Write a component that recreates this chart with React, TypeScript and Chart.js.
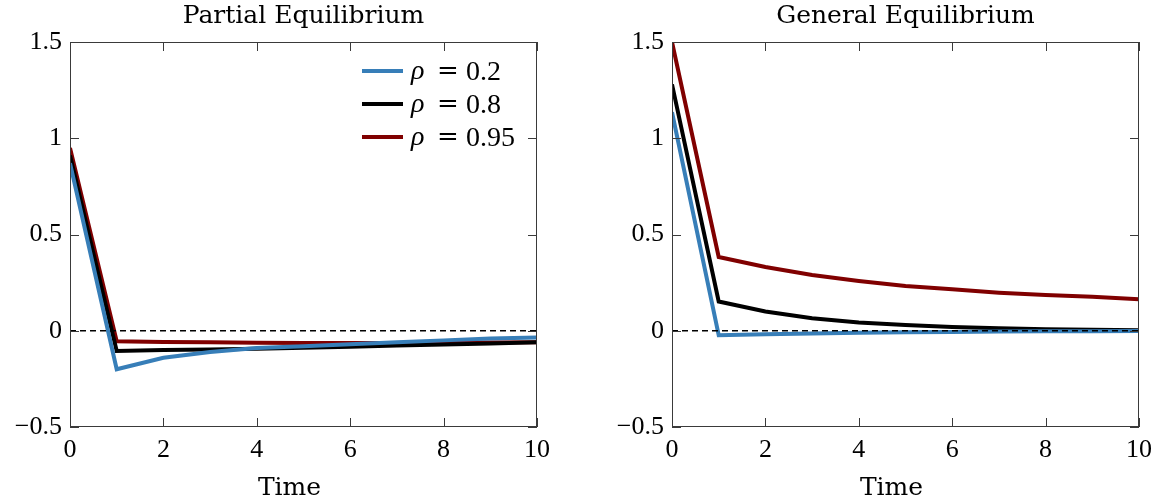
import React, { useEffect, useRef } from 'react';
import { Chart, registerables } from 'chart.js';

Chart.register(...registerables);

// ---- Data ----
const time = [0, 1, 2, 3, 4, 5, 6, 7, 8, 9, 10];
const rhoLabels = ['0.2', '0.8', '0.95'];
const seriesColors = ['#377eb8', '#000000', '#800000'];

// Partial equilibrium
const peRho02 = [0.87, -0.2, -0.14, -0.11, -0.09, -0.08, -0.07, -0.06, -0.05, -0.04, -0.035];
const peRho08 = [0.91, -0.105, -0.1, -0.097, -0.093, -0.088, -0.083, -0.077, -0.072, -0.066, -0.06];
const peRho095 = [0.95, -0.055, -0.058, -0.06, -0.062, -0.063, -0.063, -0.063, -0.062, -0.061, -0.06];

// General equilibrium
const geRho02 = [1.135, -0.023, -0.018, -0.014, -0.01, -0.008, -0.006, -0.004, -0.003, -0.002, -0.001];
const geRho08 = [1.28, 0.152, 0.1, 0.065, 0.043, 0.03, 0.02, 0.013, 0.008, 0.005, 0.003];
const geRho095 = [1.5, 0.383, 0.331, 0.29, 0.259, 0.233, 0.215, 0.198, 0.186, 0.176, 0.164];

const xTicks = [0, 2, 4, 6, 8, 10];
const yTicks = [-0.5, 0, 0.5, 1, 1.5];
const xAxisLabel = 'Time';

const FONT = '"Liberation Serif", serif';
const TITLE_FONT = '"DejaVu Serif", serif';

const fmt = (v: number) => (v < 0 ? '\u2212' + String(Math.abs(v)) : String(v));

const framePlugin = (showLegend: boolean) => ({
  id: 'frame',
  afterDatasetsDraw(chart: any) {
    const { ctx, chartArea: ca, scales } = chart;
    const xs = scales.x;
    const ys = scales.y;
    ctx.save();
    // dashed zero line
    const y0 = ys.getPixelForValue(0);
    ctx.strokeStyle = '#000';
    ctx.lineWidth = 1.7;
    ctx.setLineDash([6, 4]);
    ctx.beginPath();
    ctx.moveTo(ca.left, y0);
    ctx.lineTo(ca.right, y0);
    ctx.stroke();
    ctx.setLineDash([]);
    // frame
    ctx.strokeStyle = '#3a3a3a';
    ctx.lineWidth = 1;
    ctx.strokeRect(ca.left + 0.5, ca.top + 0.5, ca.right - ca.left - 1, ca.bottom - ca.top - 1);
    const tl = 9;
    ctx.beginPath();
    xTicks.forEach((v) => {
      const x = Math.round(xs.getPixelForValue(v)) + 0.5;
      ctx.moveTo(x, ca.bottom);
      ctx.lineTo(x, ca.bottom - tl);
      ctx.moveTo(x, ca.top);
      ctx.lineTo(x, ca.top + tl);
    });
    yTicks.forEach((v) => {
      const y = Math.round(ys.getPixelForValue(v)) + 0.5;
      ctx.moveTo(ca.left, y);
      ctx.lineTo(ca.left + tl, y);
      ctx.moveTo(ca.right, y);
      ctx.lineTo(ca.right - tl, y);
    });
    ctx.stroke();

    // x-axis label
    ctx.fillStyle = '#000';
    ctx.textAlign = 'center';
    ctx.textBaseline = 'alphabetic';
    ctx.font = '25px ' + TITLE_FONT;
    ctx.fillText(xAxisLabel, (ca.left + ca.right) / 2 - 14, chart.height - 6);

    if (showLegend) {
      chart.data.datasets.forEach((ds: any, i: number) => {
        const y = ca.top + 29 + i * 33;
        ctx.strokeStyle = ds.borderColor;
        ctx.lineWidth = 4;
        ctx.beginPath();
        ctx.moveTo(ca.right - 175, y);
        ctx.lineTo(ca.right - 134, y);
        ctx.stroke();
        ctx.fillStyle = '#000';
        ctx.textBaseline = 'alphabetic';
        ctx.textAlign = 'left';
        ctx.font = 'italic 28px ' + FONT;
        ctx.fillText('\u03c1', ca.right - 126, y + 8);
        ctx.font = '26px ' + TITLE_FONT;
        ctx.fillText('=', ca.right - 100, y + 8);
        ctx.font = '28px ' + FONT;
        ctx.fillText(rhoLabels[i], ca.right - 71, y + 9);
      });
    }
    ctx.restore();
  },
});

type PanelProps = {
  title: string;
  series: number[][];
  showLegend: boolean;
  yAxisWidth: number;
  rightPad: number;
};

function Panel({ title, series, showLegend, yAxisWidth, rightPad }: PanelProps) {
  const ref = useRef<HTMLCanvasElement | null>(null);
  useEffect(() => {
    if (!ref.current) return;
    const chart = new Chart(ref.current, {
      type: 'line',
      data: {
        datasets: series.map((vals, i) => ({
          label: '\u03c1 = ' + rhoLabels[i],
          data: time.map((t, j) => ({ x: t, y: vals[j] })),
          borderColor: seriesColors[i],
          backgroundColor: seriesColors[i],
          borderWidth: 4,
          pointRadius: 0,
          tension: 0,
          fill: false,
        })),
      },
      options: {
        animation: false,
        responsive: false,
        layout: { padding: { left: 0, right: rightPad, top: 0, bottom: 0 } },
        plugins: {
          legend: { display: false },
          tooltip: { enabled: false },
          title: {
            display: true,
            text: title,
            fullSize: false,
            color: '#000',
            font: { family: TITLE_FONT, size: 25, weight: 'normal', lineHeight: 1.2 },
            padding: { top: 1, bottom: 11 },
          },
        },
        scales: {
          x: {
            type: 'linear',
            min: 0,
            max: 10,
            afterBuildTicks: (s: any) => {
              s.ticks = xTicks.map((v) => ({ value: v }));
            },
            grid: { display: false, drawTicks: false },
            border: { display: false },
            ticks: {
              color: '#000',
              font: { family: FONT, size: 26 },
              padding: 8,
              maxRotation: 0,
              autoSkip: false,
              callback: (v: any) => fmt(Number(v)),
            },
            afterFit: (s: any) => {
              s.height = 74;
              s.paddingLeft = 0;
              s.paddingRight = 0;
            },
          },
          y: {
            type: 'linear',
            min: -0.5,
            max: 1.5,
            afterBuildTicks: (s: any) => {
              s.ticks = yTicks.map((v) => ({ value: v }));
            },
            grid: { display: false, drawTicks: false },
            border: { display: false },
            ticks: {
              color: '#000',
              font: { family: FONT, size: 26 },
              padding: 8,
              callback: (v: any) => fmt(Number(v)),
            },
            afterFit: (s: any) => {
              s.width = yAxisWidth;
              s.paddingTop = 0;
              s.paddingBottom = 0;
            },
          },
        },
      } as any,
      plugins: [framePlugin(showLegend)],
    });
    return () => chart.destroy();
  }, [title, series, showLegend, yAxisWidth, rightPad]);
  return <canvas ref={ref} width={578} height={501} style={{ width: 578, height: 501, display: 'block' }} />;
}

const peSeries = [peRho02, peRho08, peRho095];
const geSeries = [geRho02, geRho08, geRho095];

export default function App() {
  return (
    <div style={{ position: 'absolute', left: 0, top: 0, width: 1156, height: 501, background: '#fff', display: 'flex' }}>
      <Panel title="Partial Equilibrium" series={peSeries} showLegend={true} yAxisWidth={70} rightPad={41} />
      <Panel title="General Equilibrium" series={geSeries} showLegend={false} yAxisWidth={94} rightPad={17} />
    </div>
  );
}
